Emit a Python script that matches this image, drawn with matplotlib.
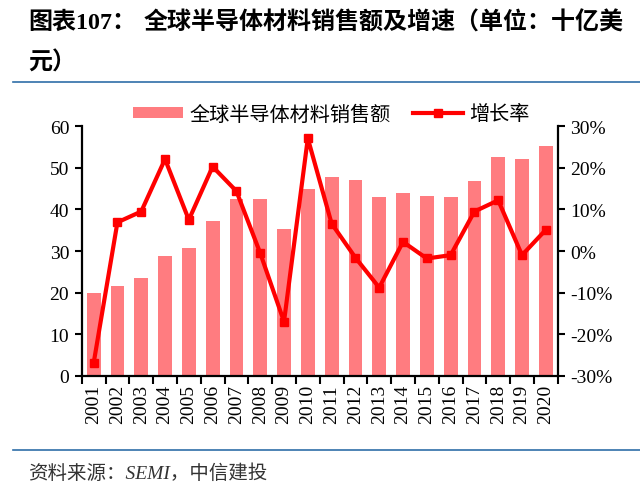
import matplotlib
matplotlib.use('Agg')
from matplotlib import pyplot as plt
from matplotlib.lines import Line2D
import numpy as np

# 数据：全球半导体材料销售额（十亿美元）及增长率
years = [str(y) for y in range(2001, 2021)]
sales = [20.0, 21.5, 23.5, 28.8, 30.8, 37.3, 42.6, 42.4, 35.2, 44.9,
         47.8, 47.0, 43.0, 44.0, 43.3, 42.9, 46.9, 52.7, 52.1, 55.3]
growth = [-27.0, 6.9, 9.5, 22.1, 7.5, 20.3, 14.4, -0.5, -17.0, 27.1,
          6.6, -1.6, -8.8, 2.2, -1.8, -1.0, 9.5, 12.2, -1.0, 5.1]

serif_cjk = ['Liberation Serif', 'Noto Sans CJK SC']
plt.rcParams['font.family'] = serif_cjk
plt.rcParams['axes.unicode_minus'] = False

bar_color = '#FF7C80'
line_color = '#FF0000'
blue = '#2F6EA8'

fig = plt.figure(figsize=(6.4, 4.85), dpi=100)
ax = fig.add_axes([0.1277, 0.2233, 0.8714 - 0.1277, 0.7375 - 0.2233])
ax2 = ax.twinx()

x = np.arange(len(years))
bars = ax.bar(x, sales, width=0.58, color=bar_color, zorder=2, label='全球半导体材料销售额')
ln, = ax2.plot(x, growth, color=line_color, lw=3, marker='s', ms=6,
               zorder=3, label='增长率')

ax.set_xlim(-0.5, len(years) - 0.5)
ax.set_ylim(0, 60)
ax.set_yticks(range(0, 61, 10))
ax2.set_ylim(-30, 30)
ax2.set_yticks(range(-30, 31, 10))
ax2.set_yticklabels([f'{v}%' for v in range(-30, 31, 10)])

# x轴：刻度线在柱子之间，标签在柱子中心
ax.set_xticks(np.arange(-0.5, len(years), 1.0))
ax.set_xticklabels([])
ax.set_xticks(x, minor=True)
ax.set_xticklabels(years, minor=True, rotation=90)
ax.tick_params(axis='x', which='major', length=6, width=1.5, direction='out')
ax.tick_params(axis='x', which='minor', length=0, pad=6, labelsize=14)
ax.tick_params(axis='y', length=5, width=1.5, labelsize=14, pad=4)
ax2.tick_params(axis='y', length=5, width=1.5, labelsize=14, pad=4)

for a in (ax, ax2):
    a.spines['top'].set_visible(False)
    for s in ('left', 'right', 'bottom'):
        a.spines[s].set_linewidth(1.6)
        a.spines[s].set_color('black')
ax.spines['right'].set_visible(False)
ax2.spines['left'].set_visible(False)
ax2.spines['bottom'].set_visible(False)

ax.set_zorder(ax2.get_zorder() - 1)
ax2.patch.set_visible(False)

fig.legend([bars, ln], ['全球半导体材料销售额', '增长率'], loc='center',
           bbox_to_anchor=(331 / 640, 1 - 115 / 485), ncol=2, frameon=False,
           prop={'family': ['Noto Sans CJK SC'], 'size': 14.5},
           handlelength=2.5, handleheight=0.5, handletextpad=0.3,
           columnspacing=1.1)

# 标题
title_font = {'family': serif_cjk, 'weight': 'bold', 'size': 17.3}
fig.text(28 / 640, 1 - 23 / 485, '图表107：', va='center', ha='left', **title_font)
fig.text(144 / 640, 1 - 23 / 485, '全球半导体材料销售额及增速（单位：十亿美',
         va='center', ha='left', **title_font)
fig.text(28 / 640, 1 - 63 / 485, '元）', va='center', ha='left', **title_font)

# 分隔线
fig.add_artist(Line2D([13 / 640, 1.0], [1 - 83 / 485] * 2, color=blue, lw=1.2))
fig.add_artist(Line2D([13 / 640, 1.0], [1 - 451 / 485] * 2, color=blue, lw=1.2))

# 资料来源
fig.text(28 / 640, 1 - 474 / 485, '资料来源：SEMI，中信建投', va='center', ha='left',
         family=serif_cjk, style='italic', size=14, color='#333333')

fig.savefig('out.png', dpi=100)
